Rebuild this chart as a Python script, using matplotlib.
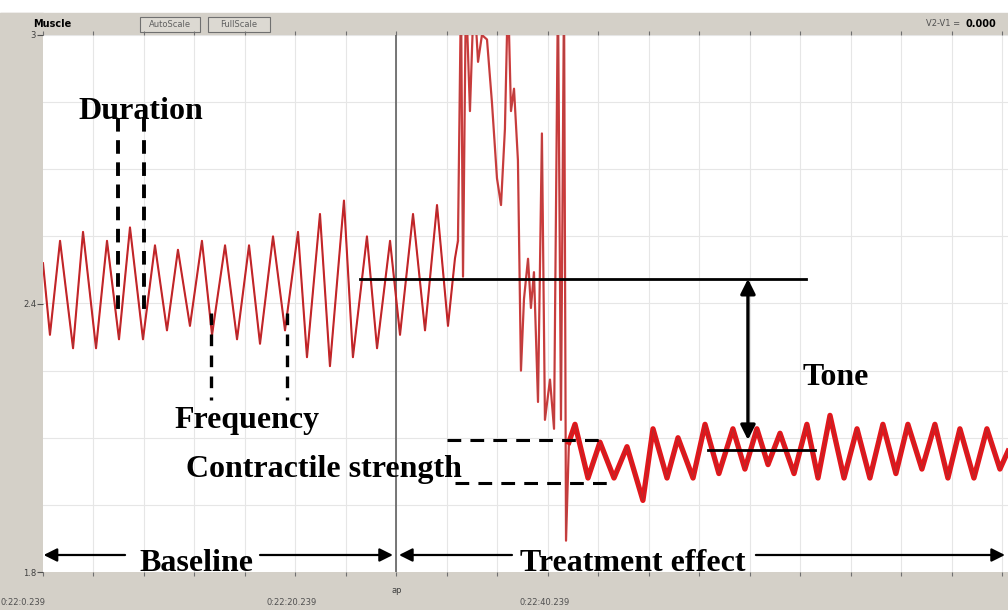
import numpy as np
import matplotlib.pyplot as plt
from matplotlib.patches import Rectangle

# Trace (time in s, signal in V)
base_t = [0, 0.55, 1.35, 2.38, 3.17, 4.20, 5.07, 6.02, 6.89, 7.92, 8.87, 9.82,
          10.69, 11.64, 12.59, 13.39, 14.42, 15.37, 16.32, 17.19, 18.22, 19.17,
          20.20, 20.91, 21.94, 22.73, 23.84, 24.55, 25.66, 26.46, 27.49, 28.28,
          29.31, 30.26, 31.21, 32.08, 32.63, 32.87]
base_v = [2.49, 2.33, 2.54, 2.30, 2.56, 2.30, 2.54, 2.32, 2.57, 2.32, 2.53, 2.34,
          2.52, 2.35, 2.54, 2.33, 2.53, 2.32, 2.53, 2.31, 2.55, 2.34,
          2.56, 2.28, 2.60, 2.26, 2.63, 2.28, 2.55, 2.30, 2.54, 2.33,
          2.60, 2.34, 2.62, 2.35, 2.50, 2.54]

surge_t = [33.11, 33.27, 33.50, 33.82, 34.14, 34.46, 34.77, 35.17, 35.56, 35.96,
           36.28, 36.59, 36.83, 37.07, 37.31, 37.62, 37.86, 38.10, 38.42, 38.65,
           38.89, 39.21, 39.52, 39.76, 40.16, 40.48, 40.79, 41.03, 41.27, 41.43,
           41.66]
surge_v = [3.10, 2.46, 3.10, 2.83, 3.10, 2.94, 3.00, 2.99, 2.85, 2.68,
           2.62, 2.79, 3.10, 2.83, 2.88, 2.72, 2.25, 2.41, 2.50, 2.39,
           2.47, 2.18, 2.78, 2.14, 2.23, 2.12, 3.10, 2.14, 3.10, 1.87,
           2.09]

treat_t = [42.14, 43.17, 44.12, 45.23, 46.26, 47.52, 48.32, 49.43, 50.30, 51.49,
           52.44, 53.54, 54.65, 55.60, 56.55, 57.43, 58.38, 59.49, 60.51, 61.39,
           62.34, 63.45, 64.48, 65.50, 66.53, 67.56, 68.51, 69.62, 70.65, 71.68,
           72.63, 73.74, 74.77, 75.80, 76.44]
treat_v = [2.13, 2.01, 2.09, 2.01, 2.08, 1.96, 2.12, 2.01, 2.10, 2.01,
           2.13, 2.02, 2.12, 2.03, 2.12, 2.04, 2.11, 2.02, 2.13, 2.01,
           2.15, 2.01, 2.12, 2.01, 2.13, 2.02, 2.13, 2.03, 2.13, 2.01,
           2.12, 2.01, 2.12, 2.03, 2.07]

y_ticks = [3.0, 2.4, 1.8]
y_ticklabels = ['3', '2.4', '1.8']
time_labels = ['0:22:0.239', '0:22:20.239', '0:22:40.239']
time_label_pos = [0, 20, 40]
ap_time = 28.0

W, H = 1008, 610
gray = '#d4d0c8'
red = '#e3161b'
serif = 'Liberation Serif'

fig = plt.figure(figsize=(W / 100, H / 100), dpi=100)
ax = fig.add_axes([43 / W, (H - 572) / H, (W - 43) / W, (572 - 35) / H])

# grey window frame
fig.add_artist(Rectangle((0, 0), 43 / W, (H - 13) / H, transform=fig.transFigure,
                         color=gray, zorder=-1))
fig.add_artist(Rectangle((0, 0), 1, (H - 572) / H, transform=fig.transFigure,
                         color=gray, zorder=-1))
fig.add_artist(Rectangle((0, (H - 35) / H), 1, 22 / H, transform=fig.transFigure,
                         color=gray, zorder=-1))
for x0, x1, lab in [(140, 200, 'AutoScale'), (208, 270, 'FullScale')]:
    fig.add_artist(Rectangle((x0 / W, (H - 32) / H), (x1 - x0) / W, 15 / H,
                             transform=fig.transFigure, facecolor='#dcd9d2',
                             edgecolor='#707070', lw=0.8, zorder=-0.5))
    fig.text((x0 + x1) / 2 / W, (H - 24.5) / H, lab, fontsize=6, color='#606060',
             ha='center', va='center')
fig.text(33 / W, (H - 24) / H, 'Muscle', fontsize=7, weight='bold', va='center')
fig.text(960 / W, (H - 24) / H, 'V2-V1 =', fontsize=6, color='#505050',
         ha='right', va='center')
fig.text(965 / W, (H - 24) / H, '0.000', fontsize=7, weight='bold', va='center')

ax.set_xlim(0, 76.44)
ax.set_ylim(1.8, 3.0)
for s in ax.spines.values():
    s.set_visible(False)

# light grid
for g in np.arange(1.95, 3.0, 0.15):
    ax.axhline(g, color='#e6e6e6', lw=0.8, zorder=0)
for g in np.arange(4, 77, 4):
    ax.axvline(g, color='#e6e6e6', lw=0.8, zorder=0)

ax.set_xticks(np.arange(0, 77, 4))
ax.set_xticklabels([])
ax.tick_params(axis='x', direction='out', length=3, color='#707070',
               top=True, bottom=True)
ax.set_yticks(y_ticks)
ax.set_yticklabels(y_ticklabels, fontsize=6, color='#404040')
ax.tick_params(axis='y', direction='out', length=4, color='#505050', pad=1)

xt = ax.get_xaxis_transform()
for t, lab in zip(time_label_pos, time_labels):
    ha = 'left' if t == 0 else 'center'
    ax.text(t - 3.4 if t == 0 else t - 0.3, -0.057, lab, transform=xt, fontsize=6,
            color='#505050', ha=ha, va='center', clip_on=False)
ax.text(ap_time, -0.034, 'ap', transform=xt, fontsize=6, color='#404040',
        ha='center', va='center', clip_on=False)

ax.axvline(ap_time, color='#606060', lw=1.2, zorder=2)

# trace
ax.plot(base_t, base_v, color=red, lw=1.5, zorder=3)
ax.plot(base_t, base_v, color='#7a4646', lw=0.6, alpha=0.7, zorder=3)
st = [base_t[-1]] + surge_t
sv = [base_v[-1]] + surge_v
ax.plot(st, sv, color='#d83a3a', lw=1.6, zorder=3)
ax.plot(st, sv, color='#8a4a4a', lw=0.5, alpha=0.6, zorder=3)
tt = [surge_t[-1]] + treat_t
tv = [surge_v[-1]] + treat_v
ax.plot(tt, tv, color=red, lw=3.8, zorder=3, solid_joinstyle='round')
ax.plot(tt, tv, color='#8a3a3a', lw=0.6, alpha=0.6, zorder=3)

# annotations
txt = dict(family=serif, weight='bold', fontsize=23, color='black',
           ha='center', va='baseline', zorder=6)
ax.text(7.76, 2.812, 'Duration', **txt)
ax.text(16.16, 2.122, 'Frequency', **txt)
ax.text(62.81, 2.218, 'Tone', **txt)
ax.text(22.26, 2.012, 'Contractile strength', **txt)
ax.text(12.12, 1.803, 'Baseline', clip_on=False, **txt)
ax.text(46.73, 1.803, 'Treatment effect', clip_on=False, **txt)

dash = dict(color='black', lw=2.8, linestyle=(0, (3.5, 2.2)), zorder=5)
for x in [5.94, 8.00]:
    ax.plot([x, x], [2.815, 2.385], **dash)
for x in [13.31, 19.33]:
    ax.plot([x, x], [2.379, 2.184], color='black', lw=2.4,
            linestyle=(0, (3.5, 2.8)), zorder=5)
ax.plot([32.0, 44.59], [2.095, 2.095], color='black', lw=2.2,
        linestyle=(0, (4.5, 3)), zorder=5)
ax.plot([32.63, 45.07], [1.999, 1.999], color='black', lw=2.2,
        linestyle=(0, (4.5, 3)), zorder=5)

ax.plot([25.11, 60.44], [2.455, 2.455], color='black', lw=2.0, zorder=5)
ax.plot([52.67, 61.15], [2.073, 2.073], color='black', lw=2.0, zorder=5)
arr2 = dict(arrowstyle='<|-|>', color='black', lw=2.4, mutation_scale=22,
            shrinkA=0, shrinkB=0)
ax.annotate('', xy=(55.84, 2.095), xytext=(55.84, 2.455), arrowprops=arr2,
            zorder=6)

arr1 = dict(arrowstyle='-|>', color='black', lw=1.6, mutation_scale=20,
            shrinkA=0, shrinkB=0)
yb = 1.838
ax.annotate('', xy=(0.05, yb), xytext=(6.5, yb), arrowprops=arr1,
            annotation_clip=False)
ax.annotate('', xy=(27.72, yb), xytext=(17.19, yb), arrowprops=arr1,
            annotation_clip=False)
ax.annotate('', xy=(28.2, yb), xytext=(37.15, yb), arrowprops=arr1,
            annotation_clip=False)
ax.annotate('', xy=(76.2, yb), xytext=(56.47, yb), arrowprops=arr1,
            annotation_clip=False)

fig.savefig('out.png', dpi=100)
